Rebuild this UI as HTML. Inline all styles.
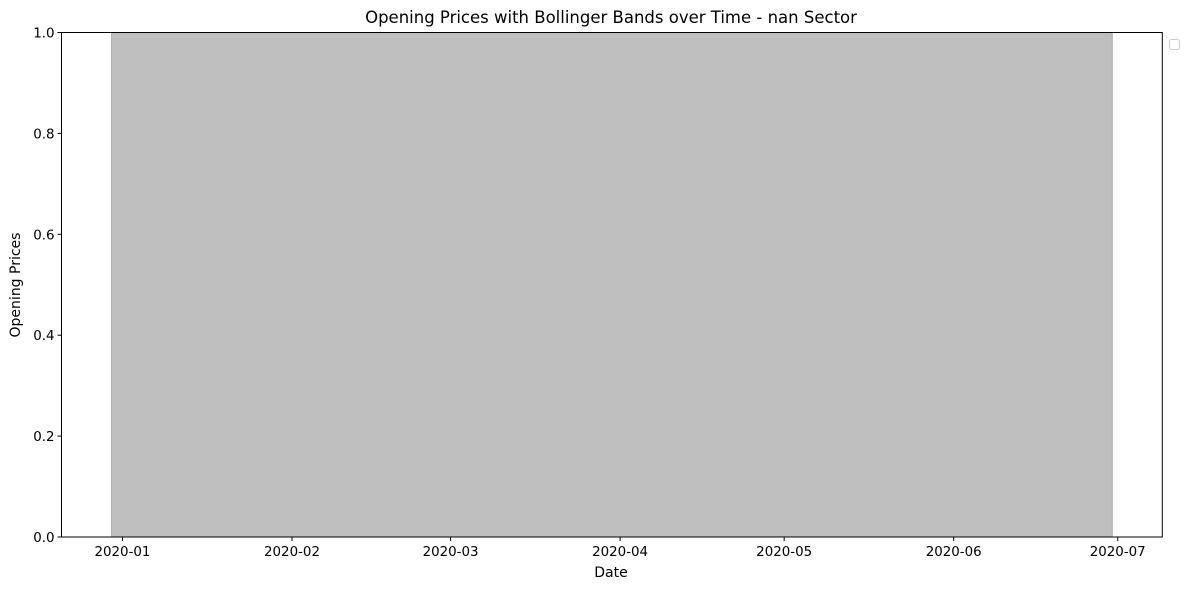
<!DOCTYPE html>
<html><head><meta charset="utf-8"><style>
body{margin:0;background:#fff;}
svg text{font-family:"DejaVu Sans","Liberation Sans",sans-serif;fill:#000;}
</style></head><body>
<svg id="chart" width="1189" height="590" xmlns="http://www.w3.org/2000/svg">
<text x="611" y="23" font-size="16.5" text-anchor="middle">Opening Prices with Bollinger Bands over Time - nan Sector</text>
<g id="plot"></g>
<text x="611" y="577" font-size="14" text-anchor="middle">Date</text>
<text transform="translate(20,285) rotate(-90)" font-size="14" text-anchor="middle">Opening Prices</text>
<rect x="1169.5" y="39.5" width="10" height="10" rx="2" fill="#fff" stroke="#ccc"/>
</svg>
<script>
const bandDates=["2019-12-30","2020-06-30"];
const bandLower=[0,0];
const bandUpper=[1,1];
const xTickLabels=["2020-01","2020-02","2020-03","2020-04","2020-05","2020-06","2020-07"];
const yTickValues=[0,0.2,0.4,0.6,0.8,1.0];

const L=61.5,R=1162.3,T=32.5,B=537;
const day=864e5;
const d0=Date.parse(bandDates[0]),d1=Date.parse(bandDates[bandDates.length-1]);
const pad=(d1-d0)*0.05;
const xmin=d0-pad,xmax=d1+pad;
const x=t=>L+(t-xmin)/(xmax-xmin)*(R-L);
const y=v=>B-(v-0)/(1-0)*(B-T);
const NS="http://www.w3.org/2000/svg";
const g=document.getElementById('plot');
function mk(tag,attrs){const e=document.createElementNS(NS,tag);for(const k in attrs)e.setAttribute(k,attrs[k]);g.appendChild(e);return e;}

let pts=[];
bandDates.forEach((d,i)=>pts.push(x(Date.parse(d))+","+y(bandUpper[i])));
for(let i=bandDates.length-1;i>=0;i--)pts.push(x(Date.parse(bandDates[i]))+","+y(bandLower[i]));
const band=mk('polygon',{points:pts.join(" "),fill:"#bfbfbf",stroke:"#b0b0b0","stroke-width":"1"});



const frame=mk('rect',{x:L,y:T,width:R-L,height:B-T,fill:"none",stroke:"#000","stroke-width":"1"});



xTickLabels.forEach(lab=>{
  const px=x(Date.parse(lab+"-01"));
  const tk=mk('line',{x1:px,x2:px,y1:B,y2:B+4,stroke:"#000"});
  
  
  const t=mk('text',{x:px,y:B+19,"font-size":"13.4","text-anchor":"middle"});
  t.textContent=lab;
  
  
});
yTickValues.forEach(v=>{
  const py=y(v);
  const tk=mk('line',{x1:L-4,x2:L,y1:py,y2:py,stroke:"#000"});
  
  
  const t=mk('text',{x:L-7,y:py+5,"font-size":"13.4","text-anchor":"end"});
  t.textContent=v.toFixed(1);
  
  
});
</script>
</body></html>
